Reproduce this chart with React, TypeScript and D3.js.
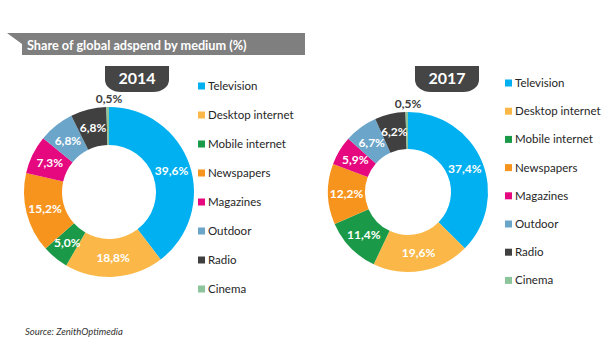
import React from "react";
import * as d3 from "d3";

const media = [
  "Television",
  "Desktop internet",
  "Mobile internet",
  "Newspapers",
  "Magazines",
  "Outdoor",
  "Radio",
  "Cinema",
];
const colors = [
  "#00b0f0",
  "#fbb848",
  "#1a9a48",
  "#f7941e",
  "#e5087f",
  "#6ba5c9",
  "#404040",
  "#8cc49c",
];
const share2014 = [39.6, 18.8, 5.0, 15.2, 7.3, 6.8, 6.8, 0.5];
const share2017 = [37.4, 19.6, 11.4, 12.2, 5.9, 6.7, 6.2, 0.5];

const font = "Lato, 'Open Sans', sans-serif";
const fmt = (v: number) => `${v.toFixed(1).replace(".", ",")}%`;

type DonutProps = {
  year: string;
  values: number[];
  cx: number;
  cy: number;
  outer: number;
  inner: number;
  badgeX: number;
  legendX: number;
  legendTop: number;
  legendStep: number;
};

const Donut = ({
  year,
  values,
  cx,
  cy,
  outer,
  inner,
  badgeX,
  legendX,
  legendTop,
  legendStep,
}: DonutProps) => {
  const pie = d3
    .pie<number>()
    .sort(null)
    .value((d) => d);
  const arcs = pie(values);
  const arc = d3
    .arc<d3.PieArcDatum<number>>()
    .innerRadius(inner)
    .outerRadius(outer);

  // badge: flat top, rounded bottom corners
  const bw = 64;
  const bh = 26;
  const by = 66;
  const rx = 16;
  const ry = 12;
  const badge = `M${badgeX},${by} H${badgeX + bw} V${by + bh - ry} A${rx},${ry} 0 0 1 ${
    badgeX + bw - rx
  },${by + bh} H${badgeX + rx} A${rx},${ry} 0 0 1 ${badgeX},${by + bh - ry} Z`;

  return (
    <g>
      <path d={badge} fill="#454545" />
      <text
        x={badgeX + bw / 2}
        y={by + 18}
        textAnchor="middle"
        fill="#fff"
        fontFamily={font}
        fontWeight="bold"
        fontSize="16px"
      >
        {year}
      </text>
      <g transform={`translate(${cx}, ${cy})`}>
        {arcs.map((a, i) => (
          <path key={media[i]} d={arc(a) || ""} fill={colors[i]} />
        ))}
        {arcs.map((a, i) => {
          if (a.data < 1) {
            return (
              <text
                key={media[i]}
                x={0}
                y={-outer - 4}
                textAnchor="middle"
                fill="#404040"
                fontFamily={font}
                fontWeight="bold"
                fontSize="12px"
              >
                {fmt(a.data)}
              </text>
            );
          }
          const [x, y] = arc.centroid(a);
          return (
            <text
              key={media[i]}
              x={x}
              y={y}
              dy="0.35em"
              textAnchor="middle"
              fill="#fff"
              fontFamily={font}
              fontWeight="bold"
              fontSize="12px"
            >
              {fmt(a.data)}
            </text>
          );
        })}
      </g>
      {/* Legend */}
      {media.map((m, i) => {
        const y = legendTop + i * legendStep;
        return (
          <g key={m} transform={`translate(${legendX}, ${y})`}>
            <rect x={0} y={-3.5} width={7} height={7} fill={colors[i]} />
            <text
              x={10}
              y={0}
              dy="0.35em"
              fill="#262626"
              fontFamily={font}
              fontSize="11.5px"
            >
              {m}
            </text>
          </g>
        );
      })}
    </g>
  );
};

const App = () => {
  return (
    <svg
      width={616}
      height={351}
      style={{ position: "absolute", left: 0, top: 0, background: "#fff" }}
    >
      {/* Title ribbon */}
      <path d="M7,33 H305 V55 H22 V44 Z" fill="#7f7f7f" />
      <text
        x={27}
        y={50}
        fill="#fff"
        fontFamily={font}
        fontWeight="bold"
        fontSize="12.7px"
      >
        Share of global adspend by medium (%)
      </text>

      <Donut
        year="2014"
        values={share2014}
        cx={109}
        cy={192}
        outer={85}
        inner={47}
        badgeX={105}
        legendX={198}
        legendTop={86}
        legendStep={29}
      />
      <Donut
        year="2017"
        values={share2017}
        cx={408}
        cy={192}
        outer={80}
        inner={43}
        badgeX={415}
        legendX={505}
        legendTop={83}
        legendStep={28.2}
      />

      <text
        x={25}
        y={335}
        fill="#333"
        fontFamily={font}
        fontStyle="italic"
        fontSize="9.5px"
      >
        Source: ZenithOptimedia
      </text>
    </svg>
  );
};

export default App;
